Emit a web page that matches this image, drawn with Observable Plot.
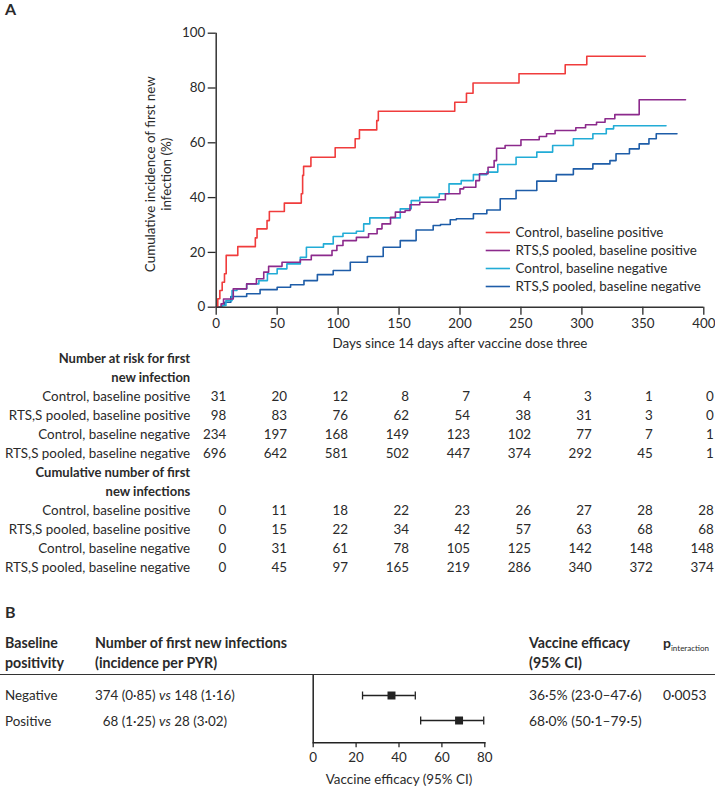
<!DOCTYPE html>
<html><head><meta charset="utf-8">
<script src="https://cdn.jsdelivr.net/npm/d3@7"></script>
<script src="https://cdn.jsdelivr.net/npm/@observablehq/plot@0.6"></script>
<style>
body{margin:0;background:#fff;}
#root{position:relative;width:715px;height:792px;font-family:Lato,sans-serif;color:#2a2a2a;font-size:13.4px;overflow:hidden;background:#fff;}
.abs{position:absolute;white-space:nowrap;line-height:16px;}
.b{font-weight:bold;}
.h{font-weight:bold;font-size:14.2px;}
.pl{position:absolute;}
</style></head><body><div id="root"></div>
<script>
// ---------- Panel A data ----------
const groups = ["Control, baseline positive","RTS,S pooled, baseline positive","Control, baseline negative","RTS,S pooled, baseline negative"];
const colors = ["#f03c3c","#8c2a8c","#22acd6","#1e5da8"];
const ctrlPos = [[0,0],[1.3,3.1],[3,6.1],[4.9,9.1],[6.8,12.2],[8.2,18.9],[17.7,22.1],[32.1,25.3],[33.5,28.6],[41.7,31.6],[43.6,34.9],[55.9,38.0],[69.8,41.4],[70.9,48.1],[71.7,51.4],[77.7,54.7],[97.6,58.2],[114,61.5],[117.5,64.7],[131.7,68.1],[133,71.5],[195.7,74.8],[205.3,78.1],[210.7,81.8],[248.4,85.2],[286.3,88.5],[304,91.6],[352,91.6]];
const rtsPos = [[0,0],[4,1.2],[6,3.0],[14,6.7],[25,8.5],[33,10.4],[39,12.8],[43,14.9],[54,16.4],[69,17.3],[78,18.9],[95,20.7],[99,22.5],[104,24.3],[115,25.5],[125,26.8],[132,28.6],[136,30.4],[143,32.8],[147,34.7],[155,35.3],[159,37.4],[167,38.3],[182,39.2],[188,41.4],[200,43.2],[203,43.8],[213,46.2],[216,48.7],[223,51.1],[228,53.5],[230,58.0],[237,59.0],[250,61.1],[265,62.3],[271,63.3],[278,64.5],[295,65.5],[303,66.6],[312,67.5],[319,68.8],[327,70.3],[347,75.7],[385,75.7]];
const ctrlNeg = [[0,0],[5,0.6],[8,2.4],[13,6.1],[17,6.7],[25,8.5],[35,9.7],[42,12.2],[50,14.0],[58,15.8],[69,18.2],[74,21.9],[88,23.1],[96,25.8],[104,27.0],[115,27.7],[121,30.4],[126,32.6],[151,35.9],[160,38.9],[167,40.1],[183,41.4],[191,45.0],[201,46.2],[211,48.4],[222,49.3],[231,52.1],[246,54.7],[263,56.6],[276,59.0],[293,61.5],[309,63.3],[320,65.1],[326,66.2],[369,66.2]];
const rtsNeg = [[0,0],[5,0.6],[7,1.8],[12,3.9],[25,4.9],[36,6.4],[50,7.3],[61,8.2],[72,9.7],[83,11.9],[96,13.4],[110,16.4],[124,18.5],[137,21.9],[151,24.3],[164,28.2],[178,29.8],[184,30.2],[192,31.9],[197,32.3],[211,34.1],[222,35.5],[233,39.6],[246,42.6],[263,46.0],[279,48.4],[293,50.5],[309,52.3],[323,53.5],[328,56.0],[339,57.8],[347,59.6],[355,61.5],[361,63.3],[378,63.3]];
const xTicks = [0,50,100,150,200,250,300,350,400];
const yTicks = [0,20,40,60,80,100];
const xLabel = "Days since 14 days after vaccine dose three";
const yLabel = "Cumulative incidence of first new\ninfection (%)";

// risk table
const riskDays = [0,50,100,150,200,250,300,350,400];
const atRiskCtrlPos = [31,20,12,8,7,4,3,1,0];
const atRiskRtsPos = [98,83,76,62,54,38,31,3,0];
const atRiskCtrlNeg = [234,197,168,149,123,102,77,7,1];
const atRiskRtsNeg = [696,642,581,502,447,374,292,45,1];
const cumCtrlPos = [0,11,18,22,23,26,27,28,28];
const cumRtsPos = [0,15,22,34,42,57,63,68,68];
const cumCtrlNeg = [0,31,61,78,105,125,142,148,148];
const cumRtsNeg = [0,45,97,165,219,286,340,372,374];
const riskHeader = ["Number at risk for first","new infection"];
const cumHeader = ["Cumulative number of first","new infections"];

// ---------- Panel B data ----------
const bRows = ["Negative","Positive"];
const bRtsN = [374,68];
const bRtsInc = [0.85,1.25];
const bCtrlN = [148,28];
const bCtrlInc = [1.16,3.02];
const bVE = [36.5,68.0];
const bLo = [23.0,50.1];
const bHi = [47.6,79.5];
const pInteraction = "0.0053";
const bTicks = [0,20,40,60,80];
const bXLabel = "Vaccine efficacy (95% CI)";

// ---------- build ----------
const root = document.getElementById("root");
const baseStyle = {overflow:"visible", background:"transparent", fontFamily:"Lato, sans-serif", fontSize:"13.4px", color:"#2a2a2a"};
function place(node, left, top){ node.classList.add("pl"); node.style.left = left+"px"; node.style.top = top+"px"; root.appendChild(node); }
function txt(html, x, yc, cls){ const d=document.createElement("div"); d.className="abs "+(cls||""); d.innerHTML=html; d.style.left=x+"px"; d.style.top=(yc-8)+"px"; root.appendChild(d); return d; }

const series = [ctrlPos, rtsPos, ctrlNeg, rtsNeg];
const lineData = [];
[3,2,1,0].forEach(i => series[i].forEach(([day,pct]) => lineData.push({group:groups[i], day, pct})));

const chart = Plot.plot({
  width:715, height:355, marginLeft:215.7, marginRight:11.7, marginTop:32.7, marginBottom:48.3,
  style: baseStyle,
  x:{domain:[0,400]}, y:{domain:[0,100]},
  color:{domain:groups, range:colors},
  marks:[
    Plot.axisX({ticks:xTicks, tickSize:8, tickPadding:3, label:null, strokeWidth:1.3}),
    Plot.axisY({ticks:yTicks, tickSize:8, tickPadding:3, label:null, strokeWidth:1.3}),
    Plot.line(lineData, {x:"day", y:"pct", z:"group", stroke:"group", curve:"step-after", strokeWidth:1.6}),
    Plot.ruleY([0], {stroke:"#333", strokeWidth:1.5}),
    Plot.ruleX([0], {stroke:"#333", strokeWidth:1.5}),
    Plot.text([xLabel], {frameAnchor:"bottom", dy:41}),
    Plot.text([yLabel], {frameAnchor:"left", textAnchor:"middle", rotate:-90, dx:-58, dy:4, lineHeight:1.15})
  ]
});
place(chart, 0, 0);

// legend
const legend = Plot.plot({
  width:235, height:80, marginLeft:0, marginRight:0, marginTop:0, marginBottom:0,
  style: baseStyle,
  x:{domain:[0,1], range:[5.7,30], axis:null},
  y:{type:"point", domain:groups, range:[11.7,67.3], padding:0, axis:null},
  color:{domain:groups, range:colors},
  marks:[
    Plot.ruleY(groups, {y:d=>d, x1:0, x2:1, stroke:d=>d, strokeWidth:1.6}),
    Plot.text(groups, {x:1, y:d=>d, text:d=>d, textAnchor:"start", dx:5})
  ]
});
place(legend, 480, 220);

// table
const tableRows = [];
riskHeader.forEach((t,i)=>tableRows.push({key:"rh"+i, label:t, bold:true}));
groups.forEach(g=>tableRows.push({key:"risk|"+g, label:g, bold:false}));
cumHeader.forEach((t,i)=>tableRows.push({key:"ch"+i, label:t, bold:true}));
groups.forEach(g=>tableRows.push({key:"cum|"+g, label:g, bold:false}));
const riskArr = [atRiskCtrlPos, atRiskRtsPos, atRiskCtrlNeg, atRiskRtsNeg];
const cumArr = [cumCtrlPos, cumRtsPos, cumCtrlNeg, cumRtsNeg];
const cells = [];
groups.forEach((g,i)=>riskDays.forEach((d,j)=>{
  cells.push({key:"risk|"+g, day:d, value:riskArr[i][j]});
  cells.push({key:"cum|"+g, day:d, value:cumArr[i][j]});
}));
const table = Plot.plot({
  width:715, height:240, marginLeft:215.7, marginRight:11.7, marginTop:13, marginBottom:17.7,
  style: baseStyle,
  x:{domain:[0,400], axis:null},
  y:{type:"point", domain:tableRows.map(r=>r.key), padding:0, axis:null},
  marks:[
    Plot.text(cells, {x:"day", y:"key", text:d=>String(d.value), textAnchor:"end", dx:10}),
    Plot.text(tableRows.filter(r=>!r.bold), {y:"key", text:"label", frameAnchor:"left", textAnchor:"end", dx:-26}),
    Plot.text(tableRows.filter(r=>r.bold), {y:"key", text:"label", frameAnchor:"left", textAnchor:"end", dx:-26, fontWeight:"bold", fontSize:13})
  ]
});
place(table, 0, 345);

// panel labels
txt("A", 5, 9, "b").style.fontSize = "16px";
txt("B", 5, 612, "b").style.fontSize = "16px";

// panel B header
const dec = (v,n)=>v.toFixed(n).replace(".", "\u00b7");
txt("Baseline", 5, 643, "h"); txt("positivity", 5, 663, "h");
txt("Number of first new infections", 95, 643, "h"); txt("(incidence per PYR)", 95, 663, "h");
txt("Vaccine efficacy", 529, 643, "h"); txt("(95% CI)", 529, 663, "h");
txt('<span style="font-size:14px">p</span><span style="font-size:8px;font-weight:normal;position:relative;top:3px">interaction</span>', 663, 643, "b");
const hr = document.createElement("div");
hr.style.cssText = "position:absolute;left:0;top:674px;width:715px;height:0;border-top:1.6px solid #333;";
root.appendChild(hr);
const rowY = [695, 720.7];
bRows.forEach((r,i)=>{
  txt(r, 5, rowY[i]);
  const pad = String(bRtsN[i]).length < 3 ? "\u2007" : "";
  txt(`${pad}${bRtsN[i]} (${dec(bRtsInc[i],2)}) <i>vs</i> ${bCtrlN[i]} (${dec(bCtrlInc[i],2)})`, 95, rowY[i]);
  txt(`${dec(bVE[i],1)}% (${dec(bLo[i],1)}\u2013${dec(bHi[i],1)})`, 529, rowY[i]).style.fontSize = "13.8px";
});
txt(pInteraction.replace(".", "\u00b7"), 663, rowY[0]).style.fontSize = "13.8px";

// forest plot
const forest = bRows.map((r,i)=>({row:r, ve:bVE[i], lo:bLo[i], hi:bHi[i]}));
const vline = {draw(ctx, size){ const h = Math.sqrt(size); ctx.moveTo(0,-h/2); ctx.lineTo(0,h/2); }};
const forestPlot = Plot.plot({
  width:715, height:192, marginLeft:312.7, marginRight:230.7, marginTop:75, marginBottom:49.7,
  style: baseStyle,
  x:{domain:[0,80]},
  y:{type:"point", domain:bRows, range:[95,120.7], padding:0, axis:null},
  marks:[
    Plot.ruleX([0], {stroke:"#222", strokeWidth:1.5}),
    Plot.frame({anchor:"bottom", stroke:"#222", strokeWidth:1.5}),
    Plot.axisX({ticks:bTicks, tickSize:5, tickPadding:5, label:null, strokeWidth:1.3}),
    Plot.ruleY(forest, {x1:"lo", x2:"hi", y:"row", stroke:"#222", strokeWidth:1.3}),
    Plot.dot(forest, {x:"lo", y:"row", symbol:vline, r:4.5, stroke:"#222", strokeWidth:1.3}),
    Plot.dot(forest, {x:"hi", y:"row", symbol:vline, r:4.5, stroke:"#222", strokeWidth:1.3}),
    Plot.dot(forest, {x:"ve", y:"row", symbol:"square", r:4.5, fill:"#222"}),
    Plot.text([bXLabel], {frameAnchor:"bottom", dy:40.7})
  ]
});
place(forestPlot, 0, 600);
</script></body></html>
